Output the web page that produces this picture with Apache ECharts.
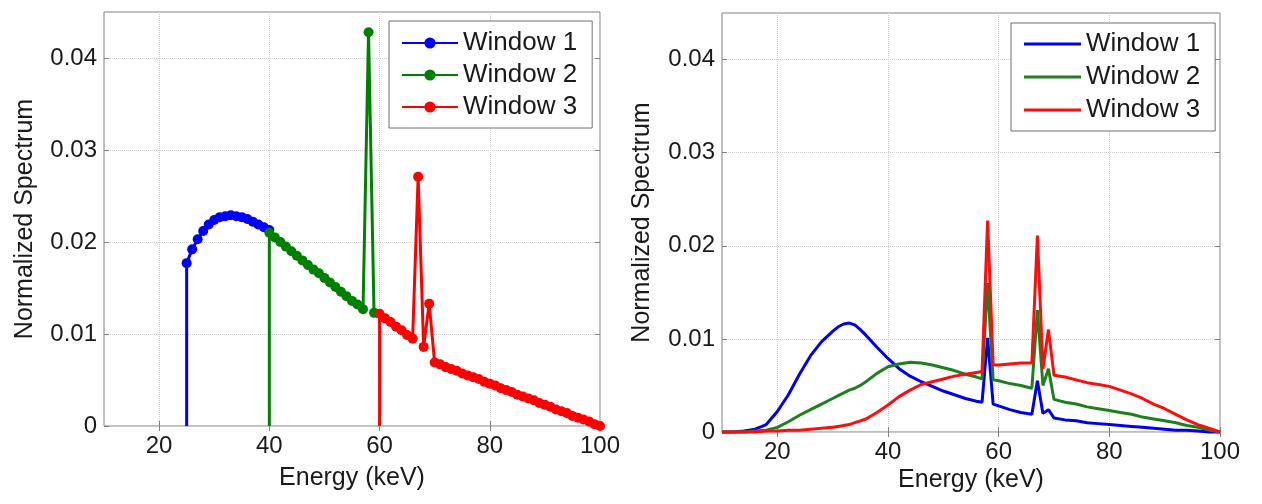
<!DOCTYPE html>
<html><head><meta charset="utf-8">
<script src="https://cdn.jsdelivr.net/npm/echarts@6/dist/echarts.min.js"></script>
<style>
html,body{margin:0;padding:0;background:#fff;}
#wrap{position:relative;width:1262px;height:504px;background:#fff;}
#c1{position:absolute;left:0;top:0;width:631px;height:504px;}
#c2{position:absolute;left:631px;top:0;width:631px;height:504px;}
</style></head>
<body><div id="wrap"><div id="c1"></div><div id="c2"></div></div>
<script>
const seriesNames = ['Window 1', 'Window 2', 'Window 3'];
const xTicks = [20, 40, 60, 80, 100];
const yTicks = [0, 0.01, 0.02, 0.03, 0.04];
const xName = 'Energy (keV)';
const yName = 'Normalized Spectrum';

// Left panel (with markers); first point of each window is the vertical edge base
const leftEnergy1 = [25, 25, 26, 27, 28, 29, 30, 31, 32, 33, 34, 35, 36, 37, 38, 39, 40];
const leftValues1 = [0, 0.0177, 0.0192, 0.0203, 0.0212, 0.0219, 0.0224, 0.0227, 0.0228, 0.0229, 0.0228, 0.0227, 0.0225, 0.0222, 0.0219, 0.0216, 0.0213];
const leftEnergy2 = [40, 40, 41, 42, 43, 44, 45, 46, 47, 48, 49, 50, 51, 52, 53, 54, 55, 56, 57, 58, 59];
const leftValues2 = [0, 0.0210, 0.0205, 0.0200, 0.0195, 0.0190, 0.0185, 0.0180, 0.0175, 0.0170, 0.0166, 0.0161, 0.0156, 0.0151, 0.0146, 0.0141, 0.0136, 0.0132, 0.0127, 0.0428, 0.0123];
const leftEnergy3 = [60, 60, 61, 62, 63, 64, 65, 66, 67, 68, 69, 70, 71, 72, 73, 74, 75, 76, 77, 78, 79, 80, 81, 82, 83, 84, 85, 86, 87, 88, 89, 90, 91, 92, 93, 94, 95, 96, 97, 98, 99, 100];
const leftValues3 = [0, 0.0122, 0.0117, 0.0113, 0.0108, 0.0104, 0.0099, 0.0095, 0.0271, 0.0086, 0.0133, 0.0069, 0.0067, 0.0064, 0.0062, 0.0060, 0.0057, 0.0055, 0.0053, 0.0051, 0.0048, 0.0046, 0.0044, 0.0041, 0.0039, 0.0037, 0.0034, 0.0032, 0.0030, 0.0028, 0.0025, 0.0023, 0.0021, 0.0018, 0.0016, 0.0014, 0.0011, 0.0009, 0.0007, 0.0005, 0.0002, 0.0000];

// Right panel (lines only)
const rightEnergy = [10, 12, 14, 16, 18, 20, 22, 24, 26, 28, 30, 31, 32, 33, 34, 35, 36, 38, 40, 42, 44, 46, 48, 50, 52, 54, 56, 57, 58, 59, 60, 62, 64, 66, 67, 68, 69, 70, 72, 74, 76, 78, 80, 82, 84, 86, 88, 90, 92, 94, 96, 98, 100];
const rightValues1 = [0, 0, 0.0001, 0.0003, 0.0008, 0.0022, 0.0040, 0.0062, 0.0082, 0.0097, 0.0108, 0.0113, 0.0116, 0.0117, 0.0115, 0.0110, 0.0104, 0.0091, 0.0079, 0.0068, 0.0060, 0.0054, 0.0049, 0.0044, 0.0040, 0.0036, 0.0033, 0.0032, 0.0101, 0.0030, 0.0028, 0.0024, 0.0021, 0.0019, 0.0055, 0.0020, 0.0024, 0.0015, 0.0013, 0.0012, 0.0010, 0.0009, 0.0008, 0.0007, 0.0006, 0.0005, 0.0004, 0.0003, 0.0002, 0.0002, 0.0001, 0.0000, 0];
const rightValues2 = [0, 0, 0, 0.0001, 0.0002, 0.0005, 0.0011, 0.0018, 0.0024, 0.0030, 0.0036, 0.0039, 0.0042, 0.0045, 0.0047, 0.0050, 0.0054, 0.0063, 0.0070, 0.0073, 0.0075, 0.0074, 0.0072, 0.0069, 0.0066, 0.0062, 0.0059, 0.0057, 0.0160, 0.0056, 0.0055, 0.0052, 0.0050, 0.0047, 0.0131, 0.0050, 0.0068, 0.0035, 0.0032, 0.0030, 0.0027, 0.0025, 0.0023, 0.0021, 0.0019, 0.0016, 0.0014, 0.0012, 0.0010, 0.0007, 0.0005, 0.0002, 0];
const rightValues3 = [0, 0, 0, 0, 0.0001, 0.0001, 0.0002, 0.0002, 0.0003, 0.0004, 0.0005, 0.0006, 0.0007, 0.0008, 0.0010, 0.0012, 0.0014, 0.0021, 0.0029, 0.0038, 0.0045, 0.0051, 0.0054, 0.0057, 0.0060, 0.0062, 0.0064, 0.0065, 0.0227, 0.0072, 0.0072, 0.0073, 0.0074, 0.0074, 0.0211, 0.0068, 0.0110, 0.0061, 0.0059, 0.0056, 0.0053, 0.0051, 0.0049, 0.0045, 0.0041, 0.0036, 0.0030, 0.0025, 0.0019, 0.0013, 0.0008, 0.0004, 0];

const leftColors = ['#0000ff', '#008000', '#ff0000'];
const rightColors = ['#0000ee', '#1f7f1f', '#ff0d0d'];

const FONT = 'Liberation Sans, Arial, sans-serif';
const TXT = '#1a1a1a';
const FRAME = '#808080';

function axes(xGap, yGap) {
  const gridLine = { show: true, lineStyle: { color: '#cfcfcf', type: 'dotted', width: 1 } };
  return {
    xAxis: [
      { type: 'value', min: 10, max: 100, position: 'bottom',
        axisLine: { show: false },
        axisTick: { show: true, inside: true, length: 5, customValues: xTicks, lineStyle: { color: FRAME } },
        axisLabel: { customValues: xTicks, fontSize: 24, color: TXT, margin: 8, fontFamily: FONT },
        splitLine: gridLine,
        name: xName, nameLocation: 'middle', nameGap: xGap, nameMoveOverlap: false,
        nameTextStyle: { fontSize: 25, color: TXT, fontFamily: FONT } },
      { type: 'value', min: 10, max: 100, position: 'top',
        axisLine: { show: false },
        axisTick: { show: true, inside: true, length: 5, customValues: xTicks, lineStyle: { color: FRAME } },
        axisLabel: { show: false }, splitLine: { show: false } }
    ],
    yAxis: [
      { type: 'value', min: 0, max: 0.045, position: 'left',
        axisLine: { show: false },
        axisTick: { show: true, inside: true, length: 5, customValues: yTicks, lineStyle: { color: FRAME } },
        axisLabel: { customValues: yTicks, fontSize: 24, color: TXT, margin: 7, fontFamily: FONT },
        splitLine: gridLine,
        name: yName, nameLocation: 'middle', nameGap: yGap, nameMoveOverlap: false,
        nameTextStyle: { fontSize: 25, color: TXT, fontFamily: FONT } },
      { type: 'value', min: 0, max: 0.045, position: 'right',
        axisLine: { show: false },
        axisTick: { show: true, inside: true, length: 5, customValues: yTicks, lineStyle: { color: FRAME } },
        axisLabel: { show: false }, splitLine: { show: false } }
    ]
  };
}

function legendCfg(left, top, gap, pad, iw, ih, icon) {
  const cfg = {
    data: seriesNames, orient: 'vertical', left: left, top: top,
    itemGap: gap, itemWidth: iw, itemHeight: ih, padding: pad,
    backgroundColor: '#ffffff', borderColor: '#6f6f6f', borderWidth: 1, borderRadius: 0,
    textStyle: { fontSize: 26, color: TXT, fontFamily: FONT, lineHeight: 26 },
    selectedMode: false
  };
  if (icon) cfg.icon = icon;
  return cfg;
}

function leftSeries(name, energies, values, color) {
  const data = energies.map((e, i) => i === 0 ? { value: [e, values[i]], symbolSize: 0 } : [e, values[i]]);
  return { name: name, type: 'line', data: data, xAxisIndex: 0, yAxisIndex: 0,
    symbol: 'circle', symbolSize: 10, showSymbol: true, clip: false,
    itemStyle: { color: color }, lineStyle: { color: color, width: 3 },
    animation: false, z: 3 };
}

function rightSeries(name, values, color) {
  return { name: name, type: 'line', data: rightEnergy.map((e, i) => [e, values[i]]),
    xAxisIndex: 0, yAxisIndex: 0, symbol: 'none', showSymbol: false, clip: false,
    itemStyle: { color: color }, lineStyle: { color: color, width: 3 },
    animation: false, z: 3 };
}

const chart1 = echarts.init(document.getElementById('c1'), null, { renderer: 'canvas' });
chart1.setOption(Object.assign({
  animation: false,
  backgroundColor: '#ffffff',
  grid: { left: 104, top: 12, width: 496, height: 414, show: true, borderColor: FRAME, borderWidth: 1, outerBoundsMode: 'none', containLabel: false },
  legend: legendCfg(389, 21, 6, [9, 15, 8, 12], 56, 14, null),
  series: [
    leftSeries(seriesNames[0], leftEnergy1, leftValues1, leftColors[0]),
    leftSeries(seriesNames[1], leftEnergy2, leftValues2, leftColors[1]),
    leftSeries(seriesNames[2], leftEnergy3, leftValues3, leftColors[2])
  ]
}, axes(40, 66)));

const chart2 = echarts.init(document.getElementById('c2'), null, { renderer: 'canvas' });
chart2.setOption(Object.assign({
  animation: false,
  backgroundColor: '#ffffff',
  grid: { left: 91, top: 13, width: 498, height: 419, show: true, borderColor: FRAME, borderWidth: 1, outerBoundsMode: 'none', containLabel: false },
  legend: legendCfg(380, 23, 7, [8, 15, 8, 13], 57, 3, 'rect'),
  series: [
    rightSeries(seriesNames[0], rightValues1, rightColors[0]),
    rightSeries(seriesNames[1], rightValues2, rightColors[1]),
    rightSeries(seriesNames[2], rightValues3, rightColors[2])
  ]
}, axes(36, 67)));
</script>
</body></html>
